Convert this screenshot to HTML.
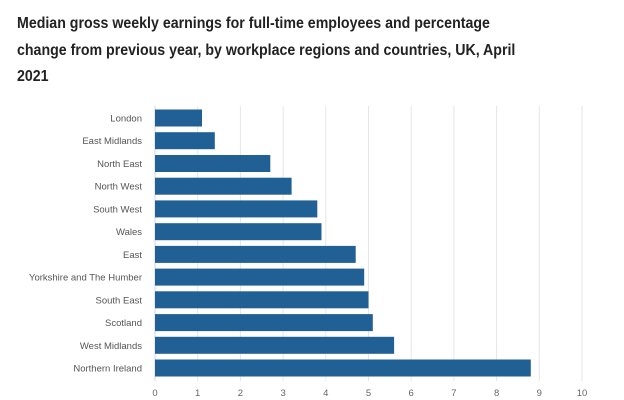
<!DOCTYPE html>
<html><head><style>
body{margin:0;width:624px;height:400px;background:#fff;overflow:hidden;font-family:"Liberation Sans",sans-serif}
.t{position:absolute;left:17px;top:11px;white-space:nowrap;font-weight:bold;font-size:15.5px;line-height:26.5px;color:#222;transform:scaleX(0.915);transform-origin:0 0}
</style></head><body>
<div class="t">Median gross weekly earnings for full-time employees and percentage<br>change from previous year, by workplace regions and countries, UK, April<br>2021</div>
<svg width="624" height="400" style="position:absolute;left:0;top:0" font-family="Liberation Sans, sans-serif">
<g stroke="#e6e6e6" stroke-width="1">
<line x1="197.7" y1="106" x2="197.7" y2="381"/><line x1="240.4" y1="106" x2="240.4" y2="381"/><line x1="283.1" y1="106" x2="283.1" y2="381"/><line x1="325.8" y1="106" x2="325.8" y2="381"/><line x1="368.5" y1="106" x2="368.5" y2="381"/><line x1="411.2" y1="106" x2="411.2" y2="381"/><line x1="453.9" y1="106" x2="453.9" y2="381"/><line x1="496.6" y1="106" x2="496.6" y2="381"/><line x1="539.3" y1="106" x2="539.3" y2="381"/><line x1="582" y1="106" x2="582" y2="381"/>
</g>
<line x1="155" y1="106" x2="155" y2="381" stroke="#ccd6eb"/>
<g fill="#206095">
<rect x="155" y="109.5" width="47" height="17"/>
<rect x="155" y="132.2" width="59.8" height="17"/>
<rect x="155" y="155" width="115.3" height="17"/>
<rect x="155" y="177.7" width="136.6" height="17"/>
<rect x="155" y="200.4" width="162.3" height="17"/>
<rect x="155" y="223.2" width="166.5" height="17"/>
<rect x="155" y="245.9" width="200.7" height="17"/>
<rect x="155" y="268.6" width="209.2" height="17"/>
<rect x="155" y="291.3" width="213.5" height="17"/>
<rect x="155" y="314.1" width="217.8" height="17"/>
<rect x="155" y="336.8" width="239.1" height="17"/>
<rect x="155" y="359.5" width="375.8" height="17"/>
</g>
<g font-size="9.5" fill="#555" text-anchor="end">
<text x="142" y="121.5">London</text>
<text x="142" y="144.2">East Midlands</text>
<text x="142" y="167">North East</text>
<text x="142" y="189.7">North West</text>
<text x="142" y="212.4">South West</text>
<text x="142" y="235.2">Wales</text>
<text x="142" y="257.9">East</text>
<text x="142" y="280.6">Yorkshire and The Humber</text>
<text x="142" y="303.3">South East</text>
<text x="142" y="326.1">Scotland</text>
<text x="142" y="348.8">West Midlands</text>
<text x="142" y="371.5">Northern Ireland</text>
</g>
<g font-size="9.5" fill="#666" text-anchor="middle">
<text x="155" y="396">0</text><text x="197.7" y="396">1</text><text x="240.4" y="396">2</text><text x="283.1" y="396">3</text><text x="325.8" y="396">4</text><text x="368.5" y="396">5</text><text x="411.2" y="396">6</text><text x="453.9" y="396">7</text><text x="496.6" y="396">8</text><text x="539.3" y="396">9</text><text x="582" y="396">10</text>
</g>
</svg>
</body></html>
